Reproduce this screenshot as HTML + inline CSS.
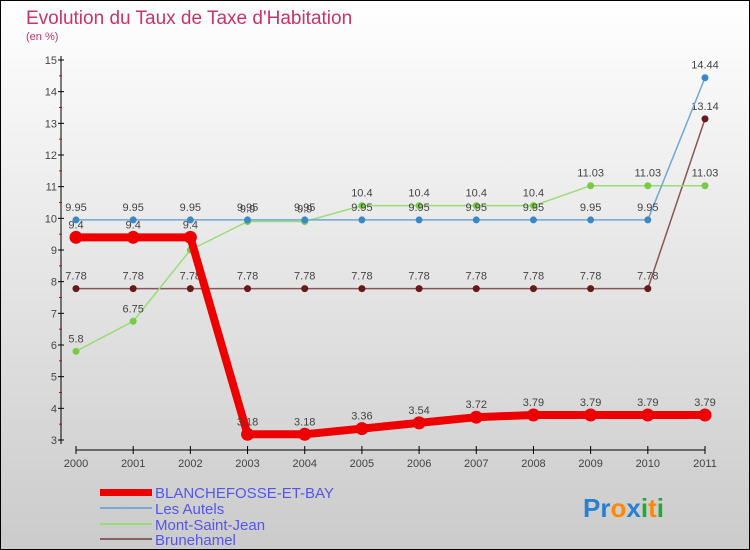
<!DOCTYPE html>
<html><head><meta charset="utf-8"><style>
html,body{margin:0;padding:0}
body{width:750px;height:550px;overflow:hidden}
svg{display:block}
text{font-family:"Liberation Sans",sans-serif}
</style></head><body>
<svg id="c" width="750" height="550" xmlns="http://www.w3.org/2000/svg">
<defs><linearGradient id="bg" x1="0" y1="0" x2="0" y2="1"><stop offset="0" stop-color="#ffffff"/><stop offset="1" stop-color="#cbcbcb"/></linearGradient></defs>
<rect x="0.5" y="0.5" width="749" height="549" fill="url(#bg)" stroke="#000"/>
<text x="26" y="24" font-size="19" fill="#c8336a">Evolution du Taux de Taxe d'Habitation</text>
<text x="26" y="40" font-size="11" fill="#c8336a">(en %)</text>
<g id="axes"></g>
<g id="series"></g>
<g id="legend">
<rect x="100" y="489" width="52" height="7" fill="#e00"/>
<text x="155" y="498" font-size="15" fill="#5555ee">BLANCHEFOSSE-ET-BAY</text>
<rect x="100" y="507" width="52" height="2" fill="#7aaad0"/>
<text x="155" y="514" font-size="15" fill="#5555ee">Les Autels</text>
<rect x="100" y="523" width="52" height="2" fill="#99dd77"/>
<text x="155" y="530" font-size="15" fill="#5555ee">Mont-Saint-Jean</text>
<rect x="100" y="538" width="52" height="2" fill="#8a6060"/>
<text x="155" y="545" font-size="15" fill="#5555ee">Brunehamel</text>
</g>
<text x="583" y="517" font-size="26" font-weight="bold"><tspan fill="#2a7fd0">Pr</tspan><tspan fill="#ff8800">o</tspan><tspan fill="#2a7fd0">x</tspan><tspan fill="#22aa33">i</tspan><tspan fill="#ff8800">t</tspan><tspan fill="#22aa33">i</tspan></text>
</svg>
<script>
const years=[2000,2001,2002,2003,2004,2005,2006,2007,2008,2009,2010,2011];
const yTicks=[3,4,5,6,7,8,9,10,11,12,13,14,15];
const blanchefosse=[9.4,9.4,9.4,3.18,3.18,3.36,3.54,3.72,3.79,3.79,3.79,3.79];
const lesAutels=[9.95,9.95,9.95,9.95,9.95,9.95,9.95,9.95,9.95,9.95,9.95,14.44];
const montSaintJean=[5.8,6.75,9,9.9,9.9,10.4,10.4,10.4,10.4,11.03,11.03,11.03];
const brunehamel=[7.78,7.78,7.78,7.78,7.78,7.78,7.78,7.78,7.78,7.78,7.78,13.14];
const NS="http://www.w3.org/2000/svg";
const X=i=>76+i*(705-76)/11;
const Y=v=>440-(v-3)*(440-60)/12;
function mk(t,a,p){const e=document.createElementNS(NS,t);for(const k in a)e.setAttribute(k,a[k]);p.appendChild(e);return e;}
const ax=document.getElementById('axes');
let e=mk('line',{x1:61,y1:56,x2:61,y2:444,stroke:'#000'},ax);


e=mk('line',{x1:76,y1:450,x2:705,y2:450,stroke:'#000'},ax);


yTicks.forEach(v=>{
 mk('line',{x1:58,y1:Y(v),x2:64,y2:Y(v),stroke:'#000'},ax);
 if(v<15)mk('line',{x1:59,y1:Y(v+0.5),x2:62,y2:Y(v+0.5),stroke:'#d00'},ax);
 const t=mk('text',{x:57,y:Y(v)+4,'font-size':11,fill:'#444','text-anchor':'end'},ax);t.textContent=v;
 
 
});
years.forEach((yr,i)=>{
 mk('line',{x1:X(i),y1:446,x2:X(i),y2:454,stroke:'#000'},ax);
 const t=mk('text',{x:X(i),y:467,'font-size':11,fill:'#444','text-anchor':'middle'},ax);t.textContent=yr;
 
 
});
const sg=document.getElementById('series');
function series(vals,name,line,w,dot,r){
 const g=mk('g',{},sg);
 
 
 const p=mk('polyline',{points:vals.map((v,i)=>X(i)+','+Y(v)).join(' '),fill:'none',stroke:line,'stroke-width':w,'stroke-linejoin':'round'},g);
 
 
 vals.forEach((v,i)=>{
  const c=mk('circle',{cx:X(i),cy:Y(v),r:r,fill:dot},g);
  
  
  const t=mk('text',{x:X(i),y:Y(v)-9,'font-size':11,fill:'#444','text-anchor':'middle'},g);t.textContent=v;
  
  
 });
}
series(brunehamel,'brunehamel','#8a5555',1.5,'#661a1a',3.5);
series(montSaintJean,'mont-saint-jean','#99dd77',1.5,'#77cc44',3.5);
series(lesAutels,'les-autels','#6fa8d8',1.5,'#3a88c8',3.5);
series(blanchefosse,'blanchefosse','#ee0000',8,'#ee0000',6.5);
</script>
</body></html>
